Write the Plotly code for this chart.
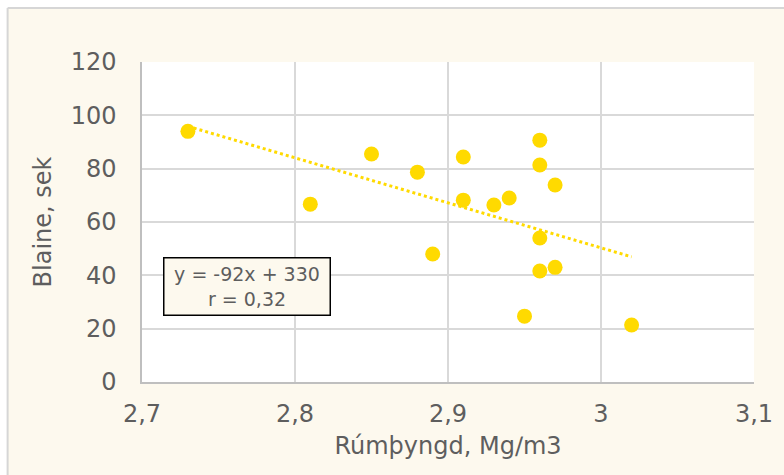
import numpy as np
import plotly.graph_objects as go

# Bulk density (Mg/m3) and Blaine time (sek) for each sample
density = [2.73, 2.81, 2.85, 2.88, 2.89, 2.91, 2.91, 2.93, 2.94, 2.95,
           2.96, 2.96, 2.96, 2.96, 2.97, 2.97, 3.02]
blaine = [94, 66.7, 85.5, 78.7, 48, 84.4, 68.2, 66.4, 69, 24.7,
          90.7, 81.4, 54, 41.6, 73.9, 43, 21.4]

equation_label = "y = -92x + 330<br>r = 0,32"
x_title = "Rúmþyngd, Mg∕m3"
y_title = "Blaine, sek"

CREAM = "#FDF9EE"
GOLD = "#FFDA00"
TEXT = "#5E5E5E"
FONT = "DejaVu Sans"

# Linear trend over the sample range
slope, intercept = np.polyfit(density, blaine, 1)
trend_x = np.array([min(density), max(density)])
trend_y = slope * trend_x + intercept

fig = go.Figure()
fig.add_trace(go.Scatter(
    x=trend_x, y=trend_y, mode="lines",
    line=dict(color=GOLD, width=3, dash="dot"),
    hoverinfo="skip", showlegend=False,
))
fig.add_trace(go.Scatter(
    x=density, y=blaine, mode="markers",
    marker=dict(color=GOLD, size=15, line=dict(width=0)),
    showlegend=False,
))

W, H = 784, 475
ml, mr, mt, mb = 141.5, 30, 62, 93
pw, ph = W - ml - mr, H - mt - mb


def px_x(p):
    return (p - ml) / pw


def px_y(p):
    return (H - mb - p) / ph


shapes = [
    # white strips outside the card frame
    dict(type="rect", xref="paper", yref="paper", x0=px_x(-5), x1=px_x(W + 5),
         y0=px_y(8), y1=px_y(-5), fillcolor="white", line=dict(width=0), layer="below"),
    dict(type="rect", xref="paper", yref="paper", x0=px_x(-5), x1=px_x(7),
         y0=px_y(H + 5), y1=px_y(-5), fillcolor="white", line=dict(width=0), layer="below"),
    # card frame edges
    dict(type="line", xref="paper", yref="paper", x0=px_x(7), x1=px_x(W + 5),
         y0=px_y(8), y1=px_y(8), line=dict(color="#D6D6D6", width=2)),
    dict(type="line", xref="paper", yref="paper", x0=px_x(7), x1=px_x(7),
         y0=px_y(8), y1=px_y(H + 5), line=dict(color="#D6D6D6", width=2)),
]

fig.update_layout(
    width=W, height=H,
    margin=dict(l=ml, r=mr, t=mt, b=mb),
    paper_bgcolor=CREAM, plot_bgcolor="white",
    separators=", ",
    font=dict(family=FONT, color=TEXT, size=24),
    shapes=shapes,
    xaxis=dict(
        range=[2.7, 3.1], dtick=0.1, tick0=2.7,
        showgrid=True, gridcolor="#D9D9D9", gridwidth=1.5,
        showline=True, linecolor="#BFBFBF", linewidth=1.5,
        zeroline=False, ticks="", ticklabelstandoff=9,
        tickfont=dict(size=24, color=TEXT),
        title=dict(text=x_title, font=dict(size=24, color=TEXT), standoff=11),
        mirror=False,
    ),
    yaxis=dict(
        range=[0, 120], dtick=20,
        showgrid=True, gridcolor="#D9D9D9", gridwidth=1.5,
        showline=True, linecolor="#BFBFBF", linewidth=1.5,
        zeroline=False, ticks="", ticklabelstandoff=19,
        tickfont=dict(size=24, color=TEXT),
        title=dict(text=y_title, font=dict(size=24, color=TEXT), standoff=12),
    ),
    annotations=[dict(
        x=2.7686, y=36, xref="x", yref="y", text=equation_label,
        showarrow=False, align="center",
        font=dict(size=19, color=TEXT, family=FONT),
        bgcolor=CREAM, bordercolor="black", borderwidth=1.5,
        width=163, height=54, borderpad=1,
    )],
)

fig.write_html("out.html")
